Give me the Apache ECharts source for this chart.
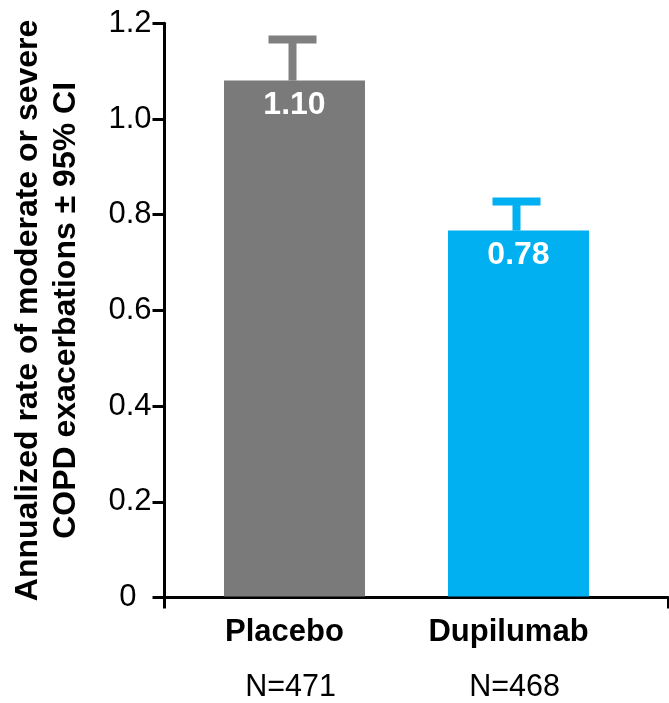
<!DOCTYPE html>
<html>
<head>
<meta charset="utf-8">
<script src="https://cdn.jsdelivr.net/npm/echarts@6/dist/echarts.min.js"></script>
<style>
html,body{margin:0;padding:0;background:#fff;}
#chart{width:669px;height:703px;}
</style>
</head>
<body>
<div id="chart"></div>
<script>
const categories = ['Placebo', 'Dupilumab'];
const sampleSizes = ['N=471', 'N=468'];
const rates = [1.08, 0.766];
const rateLabels = ['1.10', '0.78'];
const ciUpper = [1.166, 0.827];
const barColors = ['#7a7a7a', '#00b0f0'];
const errColors = ['#808080', '#00b0f0'];
const yMin = 0, yMax = 1.2, yStep = 0.2;
const yTitle = 'Annualized rate of moderate or severe\nCOPD exacerbations \u00b1 95% CI';

const FONT = 'Liberation Sans, Arial, Helvetica, sans-serif';
const chart = echarts.init(document.getElementById('chart'), null, {renderer: 'canvas'});

const gridTop = 23.3, gridBottom = 105.5;

chart.setOption({
  animation: false,
  backgroundColor: '#ffffff',
  grid: [
    {left: 182.5, right: 38.5, top: gridTop, bottom: gridBottom, containLabel: false},
    {left: 164.5, right: 1, top: gridTop, bottom: gridBottom, containLabel: false}
  ],
  xAxis: [
    {
      type: 'category', gridIndex: 0, data: categories,
      axisLine: {show: false}, axisTick: {show: false}, splitLine: {show: false},
      axisLabel: {
        margin: 16,
        fontFamily: FONT,
        formatter: function (v, i) {
          return '{name|' + v + '}\n{n|' + sampleSizes[i] + '}';
        },
        rich: {
          name: {fontSize: 31, fontWeight: 'bold', color: '#000', lineHeight: 40, fontFamily: FONT, padding: [0, 20, 0, 0]},
          n: {fontSize: 30.5, color: '#000', lineHeight: 70, fontFamily: FONT, padding: [0, 8, 0, 0]}
        }
      }
    },
    {
      type: 'value', gridIndex: 1, min: 0, max: 1, interval: 1,
      axisLine: {show: true, onZero: false, lineStyle: {color: '#000', width: 3}},
      axisTick: {show: true, length: 11, lineStyle: {color: '#000', width: 3}},
      axisLabel: {show: false}, splitLine: {show: false}
    }
  ],
  yAxis: [
    {
      type: 'value', gridIndex: 0, min: yMin, max: yMax, interval: yStep,
      show: false
    },
    {
      type: 'value', gridIndex: 1, min: yMin, max: yMax, interval: yStep,
      name: yTitle, nameLocation: 'middle', nameRotate: 90, nameGap: 79,
      nameTextStyle: {fontSize: 32, fontWeight: 'bold', color: '#000', lineHeight: 38, fontFamily: FONT, align: 'center'},
      axisLine: {show: true, lineStyle: {color: '#000', width: 3}},
      axisTick: {show: true, length: 12, lineStyle: {color: '#000', width: 3}},
      splitLine: {show: false},
      axisLabel: {
        margin: 13, fontSize: 31, color: '#000', fontFamily: FONT,
        formatter: function (v) {
          return v === 0 ? '{z|0}' : v.toFixed(1);
        },
        rich: {z: {fontSize: 31, color: '#000', fontFamily: FONT, padding: [0, 15, 0, 0]}}
      }
    }
  ],
  series: [
    {
      type: 'bar', xAxisIndex: 0, yAxisIndex: 0, barWidth: 141,
      data: rates.map(function (v, i) { return {value: v, itemStyle: {color: barColors[i]}}; }),
      label: {
        show: true, position: 'insideTop', distance: 9,
        formatter: function (p) { return rateLabels[p.dataIndex]; },
        fontSize: 32, fontWeight: 'bold', color: '#fff', fontFamily: FONT, lineHeight: 32
      },
      z: 2
    },
    {
      type: 'custom', xAxisIndex: 0, yAxisIndex: 0,
      data: categories.map(function (c, i) { return [i, rates[i], ciUpper[i]]; }),
      renderItem: function (params, api) {
        const i = api.value(0);
        const base = api.coord([i, api.value(1)]);
        const top = api.coord([i, api.value(2)]);
        const stemW = 8, capW = 48, capH = 8;
        const color = errColors[params.dataIndex];
        return {
          type: 'group',
          children: [
            {type: 'rect', shape: {x: top[0] - stemW / 2 - 2, y: top[1], width: stemW, height: base[1] - top[1]}, style: {fill: color}},
            {type: 'rect', shape: {x: top[0] - capW / 2 - 2, y: top[1] - capH / 2, width: capW, height: capH}, style: {fill: color}}
          ]
        };
      },
      z: 3
    }
  ]
});
</script>
</body>
</html>
